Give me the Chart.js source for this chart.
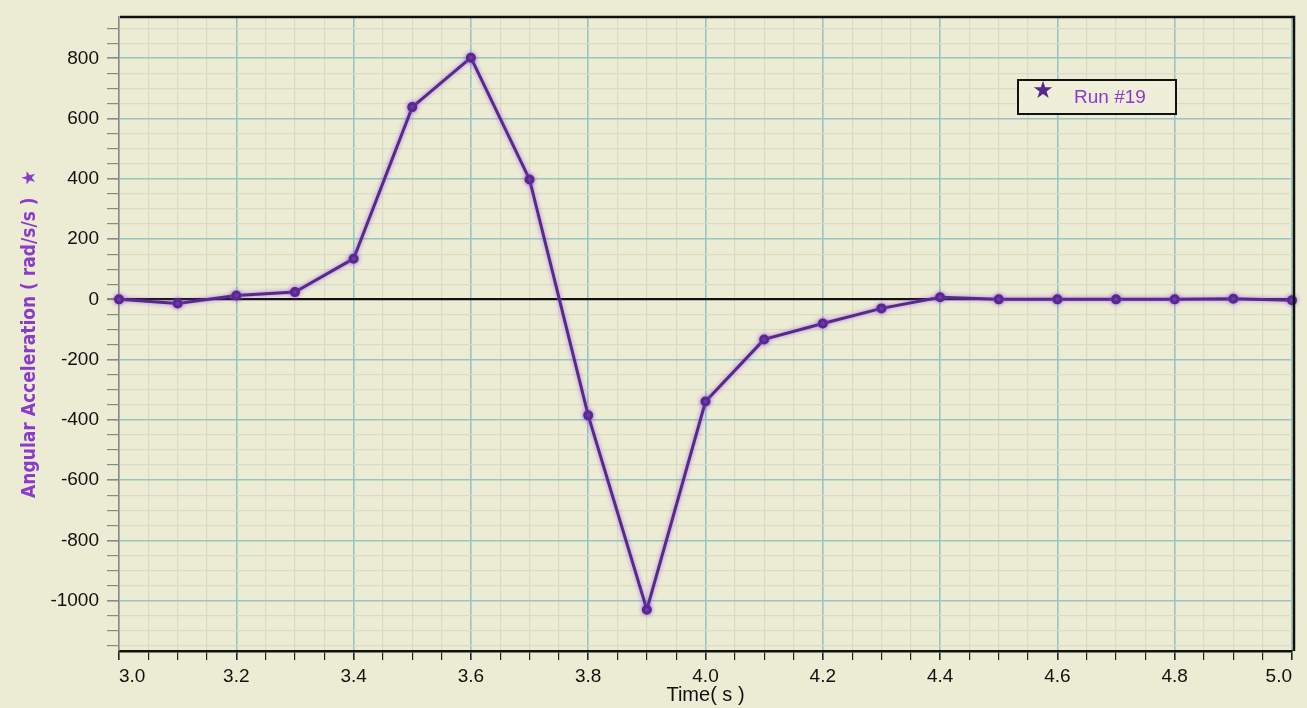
<!DOCTYPE html>
<html lang="en">
<head>
    <meta charset="UTF-8">
    <title>Angular Acceleration - Run #19</title>
    <style>
        html, body { margin: 0; padding: 0; background: #ecebd3; overflow: hidden; }
        #chart { display: block; }
    </style>
</head>
<body>
    <canvas id="chart" width="1307" height="708"></canvas>

    <script src="https://cdn.jsdelivr.net/npm/chart.js@4.4.1/dist/chart.umd.js"></script>
    <script>
        // data
        const times = [3.0, 3.1, 3.2, 3.3, 3.4, 3.5, 3.6, 3.7, 3.8, 3.9, 4.0,
                       4.1, 4.2, 4.3, 4.4, 4.5, 4.6, 4.7, 4.8, 4.9, 5.0];
        const accel = [0, -14, 13, 24, 135, 638, 802, 398, -385, -1030, -339,
                       -133, -80, -30, 7, 0, 0, 0, 0, 2, -3];
        const yLabelValues = [-1000, -800, -600, -400, -200, 0, 200, 400, 600, 800];
        const xLabelValues = [3.0, 3.2, 3.4, 3.6, 3.8, 4.0, 4.2, 4.4, 4.6, 4.8, 5.0];
        const seriesName = 'Run #19';

        const paper = '#ecebd3';
        const cyan = '#97c5c3';
        const minorGrid = '#dadbc6';
        const purple = '#552a8c';
        const labelPurple = '#8a3bcc';

        function near(v, list, eps) {
            return list.some(function (t) { return Math.abs(t - v) < eps; });
        }

        const paperBg = {
            id: 'paperBg',
            beforeDraw(chart) {
                const ctx = chart.ctx;
                ctx.save();
                ctx.fillStyle = paper;
                ctx.fillRect(0, 0, chart.width, chart.height);
                ctx.restore();
            }
        };

        // soft purple glow round the trace, like the ink in the scan
        const glow = {
            id: 'glow',
            beforeDatasetsDraw(chart) {
                chart.ctx.save();
                chart.ctx.shadowColor = 'rgba(150, 70, 230, 0.7)';
                chart.ctx.shadowBlur = 4;
            },
            afterDatasetsDraw(chart) {
                chart.ctx.restore();
            }
        };

        // black frame on top and right, plus the legend box
        const frameAndLegend = {
            id: 'frameAndLegend',
            afterDraw(chart) {
                const ctx = chart.ctx;
                const a = chart.chartArea;
                ctx.save();
                ctx.strokeStyle = '#111';
                ctx.lineWidth = 2.5;
                ctx.beginPath();
                ctx.moveTo(a.left + 1, a.top);
                ctx.lineTo(a.right + 2, a.top);
                ctx.lineTo(a.right + 2, a.bottom);
                ctx.stroke();

                // legend
                ctx.fillStyle = '#efeed9';
                ctx.fillRect(1018, 80, 158, 34);
                ctx.lineWidth = 2;
                ctx.strokeStyle = '#111';
                ctx.strokeRect(1018, 80, 158, 34);
                ctx.fillStyle = purple;
                ctx.font = '24px "DejaVu Sans"';
                ctx.textBaseline = 'middle';
                ctx.textAlign = 'center';
                ctx.fillText('\u2605', 1043, 92);
                ctx.fillStyle = labelPurple;
                ctx.font = '19px "Liberation Sans"';
                ctx.textAlign = 'left';
                ctx.fillText(seriesName, 1074, 98);
                ctx.restore();
            }
        };

        const ctx = document.getElementById('chart');
        new Chart(ctx, {
            type: 'line',
            data: {
                datasets: [{
                    label: seriesName,
                    data: times.map(function (t, i) { return { x: t, y: accel[i] }; }),
                    borderColor: purple,
                    backgroundColor: purple,
                    borderWidth: 3,
                    pointRadius: 3.5,
                    pointHoverRadius: 3.5,
                    pointBackgroundColor: purple,
                    pointBorderColor: purple,
                    tension: 0,
                    clip: false
                }]
            },
            options: {
                responsive: false,
                devicePixelRatio: 1,
                animation: false,
                layout: { padding: { top: 17, right: 15, left: 0, bottom: 0 } },
                plugins: {
                    legend: { display: false },
                    tooltip: { enabled: false }
                },
                scales: {
                    x: {
                        type: 'linear',
                        min: 3.0,
                        max: 5.0,
                        afterFit(scale) {
                            scale.height = 57;
                            scale.paddingLeft = 0;
                            scale.paddingRight = 0;
                        },
                        afterBuildTicks(scale) {
                            const t = [];
                            for (let i = 0; i <= 40; i++) t.push({ value: 3 + i * 0.05 });
                            scale.ticks = t;
                        },
                        grid: {
                            color(c) {
                                return near(c.tick.value, xLabelValues, 0.001) ? cyan : minorGrid;
                            },
                            lineWidth(c) {
                                return near(c.tick.value, xLabelValues, 0.001) ? 1.6 : 1.2;
                            },
                            tickColor: '#222',
                            tickLength: 9,
                            drawTicks: true
                        },
                        border: { color: '#111', width: 2.5 },
                        ticks: {
                            autoSkip: false,
                            maxRotation: 0,
                            align: 'inner',
                            padding: 5,
                            color: '#111',
                            font: { family: 'Liberation Sans', size: 19 },
                            callback(v) {
                                return near(v, xLabelValues, 0.001) ? Number(v).toFixed(1) : '';
                            }
                        },
                        title: {
                            display: true,
                            text: 'Time( s )',
                            color: '#111',
                            font: { family: 'Liberation Sans', size: 20 },
                            padding: { top: 0, bottom: 1 }
                        }
                    },
                    y: {
                        type: 'linear',
                        min: -1167,
                        max: 937,
                        afterFit(scale) {
                            scale.width = 119;
                            scale.paddingTop = 0;
                            scale.paddingBottom = 0;
                        },
                        afterBuildTicks(scale) {
                            const t = [];
                            for (let v = -1150; v <= 900; v += 50) t.push({ value: v });
                            scale.ticks = t;
                        },
                        grid: {
                            color(c) {
                                if (c.tick.value === 0) return '#111';
                                return c.tick.value % 200 === 0 ? cyan : minorGrid;
                            },
                            lineWidth(c) {
                                if (c.tick.value === 0) return 2.2;
                                return c.tick.value % 200 === 0 ? 1.6 : 1.2;
                            },
                            tickColor: '#8a8a80',
                            tickLength: 12
                        },
                        border: { color: '#8a8a80', width: 1.5 },
                        ticks: {
                            autoSkip: false,
                            padding: 8,
                            color: '#111',
                            font: { family: 'Liberation Sans', size: 19 },
                            callback(v) {
                                return yLabelValues.indexOf(v) >= 0 ? String(v) : '';
                            }
                        },
                        title: {
                            display: true,
                            text: 'Angular Acceleration ( rad/s/s )  \u2605',
                            color: labelPurple,
                            font: { family: '"Liberation Sans Narrow", "DejaVu Sans Condensed", sans-serif', size: 19, weight: 'bold' },
                            padding: { top: 19, bottom: 0 }
                        }
                    }
                }
            },
            plugins: [paperBg, glow, frameAndLegend]
        });
    </script>
</body>
</html>
